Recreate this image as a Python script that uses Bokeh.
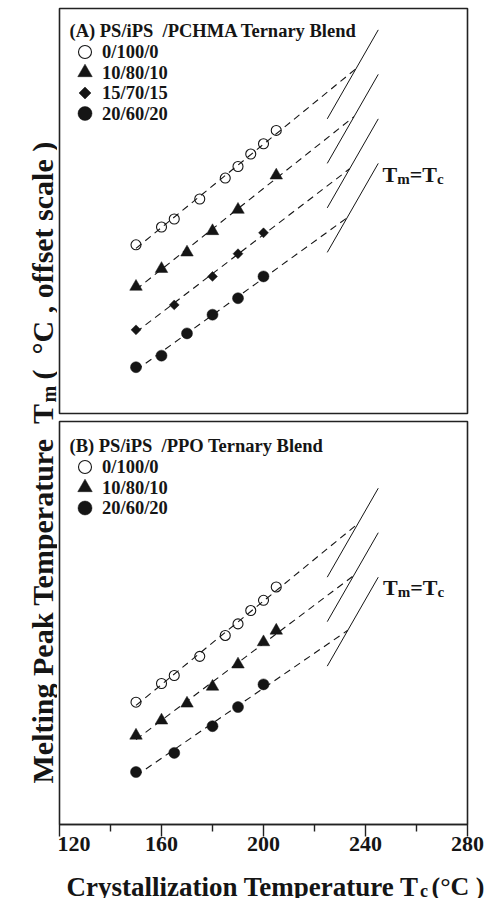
import numpy as np
from bokeh.plotting import figure
from bokeh.models import Range1d, FixedTicker
from bokeh.layouts import row, column
from bokeh.embed import file_html
from bokeh.resources import INLINE
from bokeh.core.properties import value

# ---------------- data ----------------
x_major = [120, 160, 200, 240, 280]
x_minor = [140, 180, 220, 260]
seg_tc = [225, 245]          # extent of the Tm = Tc reference segments

# Panel A : PS/iPS/PCHMA
labels_A = ["0/100/0", "10/80/10", "15/70/15", "20/60/20"]
tc_A0 = [150, 160, 165, 175, 185, 190, 195, 200, 205]
tm_A0 = [196.7, 200.7, 202.5, 207.0, 211.7, 214.3, 217.1, 219.4, 222.4]
tc_A1 = [150, 160, 170, 180, 190, 205]
tm_A1 = [197.3, 201.3, 205.0, 209.8, 214.6, 222.3]
tc_A2 = [150, 165, 180, 190, 200]
tm_A2 = [197.6, 203.2, 209.6, 214.7, 219.4]
tc_A3 = [150, 160, 170, 180, 190, 200]
tm_A3 = [199.2, 201.8, 206.8, 211.0, 214.7, 219.6]
offset_A = [0, -10, -20, -30]

# Panel B : PS/iPS/PPO
labels_B = ["0/100/0", "10/80/10", "20/60/20"]
tc_B0 = [150, 160, 165, 175, 185, 190, 195, 200, 205]
tm_B0 = [196.9, 201.1, 202.9, 207.2, 211.9, 214.5, 217.5, 219.8, 222.8]
tc_B1 = [150, 160, 170, 180, 190, 200, 205]
tm_B1 = [199.4, 202.8, 206.6, 210.4, 215.4, 220.4, 223.0]
tc_B2 = [150, 165, 180, 190, 200]
tm_B2 = [201.2, 205.5, 211.5, 215.8, 220.9]
offset_B = [0, -10, -20]

# ---------------- style ----------------
FONT = "Liberation Serif"
INK = "#151515"
NB = "\u00a0"
FW = 408
STYLE = {
    "open": dict(marker="circle", size=10, fill_color=None, line_color=INK, line_width=1.1),
    "tri":  dict(marker="triangle", size=12.5, fill_color=INK, line_color=INK, line_width=0.5),
    "dia":  dict(marker="square", size=7, angle=np.pi / 4, fill_color=INK, line_color=INK, line_width=0.5),
    "dot":  dict(marker="circle", size=11, fill_color=INK, line_color=INK, line_width=0.5),
}
LEG_SIZE = {"open": 13, "tri": 14.5, "dia": 8.5, "dot": 14}


def make_panel(y_lo, y_hi, fh, top, bottom, with_axis):
    p = figure(frame_width=FW, frame_height=fh,
               x_range=Range1d(x_major[0], x_major[-1]), y_range=Range1d(y_lo, y_hi),
               x_axis_location="below" if with_axis else None, y_axis_location=None,
               min_border_left=2, min_border_right=20, min_border_top=top,
               min_border_bottom=bottom, output_backend="svg", toolbar_location=None)
    p.grid.visible = False
    p.outline_line_color = "#222222"
    p.outline_line_width = 1.6
    p.background_fill_color = "white"
    p.border_fill_color = "white"
    p.extra_x_ranges = {"px": Range1d(0, FW)}
    p.extra_y_ranges = {"px": Range1d(fh, 0)}
    return p


def draw_series(p, tcs, tms, offsets, kinds):
    for tc, tm, off, kind in zip(tcs, tms, offsets, kinds):
        tc = np.asarray(tc, float)
        tm = np.asarray(tm, float)
        a, b = np.polyfit(tc, tm, 1)
        t0 = b / (1 - a)                       # intersection with Tm = Tc
        xl = np.array([tc[0], t0])
        p.line(xl, a * xl + b + off, line_color=INK, line_width=1.1, line_dash="7 5")
        xs = np.array(seg_tc, float)
        p.line(xs, xs + off, line_color=INK, line_width=1.0)
        p.scatter(tc, tm + off, **STYLE[kind])


def draw_legend(p, header, labels, kinds, y0):
    p.text(x=[10], y=[y0], text=[header], x_range_name="px", y_range_name="px",
           text_font=value(FONT), text_font_style="bold", text_font_size="18.5px",
           text_baseline="middle", text_align="left", text_color=INK)
    ys = [y0 + 21.5 + 20.5 * i for i in range(len(labels))]
    for yy, kind in zip(ys, kinds):
        st = dict(STYLE[kind])
        st["size"] = LEG_SIZE[kind]
        p.scatter(x=[25.5], y=[yy], x_range_name="px", y_range_name="px", **st)
    p.text(x=[42.5] * len(labels), y=ys, text=labels, x_range_name="px", y_range_name="px",
           text_font=value(FONT), text_font_style="bold", text_font_size="18.5px",
           text_baseline="middle", text_align="left", text_color=INK)


def draw_tmtc(p, x0, yb):
    pieces = [("T", 0.0, 0, "22px"), ("m", 14.7, 4, "15px"),
              ("=T", 27.2, 0, "22px"), ("c", 54.4, 4, "15px")]
    for txt, dx, dy, fs in pieces:
        p.text(x=[x0 + dx], y=[yb + dy], text=[txt], x_range_name="px", y_range_name="px",
               text_font=value(FONT), text_font_style="bold", text_font_size=fs,
               text_baseline="alphabetic", text_align="left", text_color=INK)


# ---------------- panel A ----------------
pA = make_panel(158.8, 249.8, 405, 8, 4, False)
draw_series(pA, [tc_A0, tc_A1, tc_A2, tc_A3], [tm_A0, tm_A1, tm_A2, tm_A3], offset_A,
            ["open", "tri", "dia", "dot"])
draw_legend(pA, "(A) PS/iPS" + NB + NB + "/PCHMA Ternary Blend", labels_A,
            ["open", "tri", "dia", "dot"], 22)
draw_tmtc(pA, 323, 166)

# ---------------- panel B ----------------
pB = make_panel(169.4, 260.0, 403, 4, 30, True)
draw_series(pB, [tc_B0, tc_B1, tc_B2], [tm_B0, tm_B1, tm_B2], offset_B, ["open", "tri", "dot"])
draw_legend(pB, "(B) PS/iPS" + NB + NB + "/PPO Ternary Blend", labels_B,
            ["open", "tri", "dot"], 24)
draw_tmtc(pB, 323.5, 166)

ax = pB.xaxis[0]
ax.ticker = FixedTicker(ticks=x_major, minor_ticks=x_minor)
ax.axis_line_color = "#222222"
ax.axis_line_width = 1.6
ax.major_tick_line_color = "#222222"
ax.major_tick_line_width = 1.4
ax.minor_tick_line_color = "#222222"
ax.minor_tick_line_width = 1.4
ax.major_tick_in = 0
ax.major_tick_out = 12
ax.minor_tick_in = 0
ax.minor_tick_out = 7
ax.major_label_text_font = FONT
ax.major_label_text_font_style = "bold"
ax.major_label_text_font_size = "22px"
ax.major_label_text_color = INK
ax.major_label_standoff = 0

# ---------------- y label column ----------------
YH = 8 + 405 + 4 + 4 + 403 + 34
pY = figure(frame_width=57, frame_height=YH, x_range=Range1d(0, 57), y_range=Range1d(YH, 0),
            x_axis_location=None, y_axis_location=None, min_border=0,
            output_backend="svg", toolbar_location=None)
pY.grid.visible = False
pY.outline_line_color = None
ya = 403
for txt, x, y, fs, al in [("Melting Peak Temperature" + NB + NB + "T", 42, ya, "30px", "right"),
                          ("m", 48, ya - 1, "20px", "left"),
                          ("(" + NB + NB + "°C , offset scale )", 42, ya - 24, "30px", "left")]:
    pY.text(x=[x], y=[y], text=[txt], angle=np.pi / 2, text_font=value(FONT),
            text_font_style="bold", text_font_size=fs, text_align=al,
            text_baseline="alphabetic", text_color=INK)

# ---------------- x title strip ----------------
XW, XH = 57 + 2 + FW + 20, 40
pX = figure(frame_width=XW, frame_height=XH, x_range=Range1d(0, XW), y_range=Range1d(XH, 0),
            x_axis_location=None, y_axis_location=None, min_border=0,
            output_backend="svg", toolbar_location=None)
pX.grid.visible = False
pX.outline_line_color = None
xa = 418.5
yb = 28
for txt, x, y, fs, al in [("Crystallization Temperature T", xa, yb, "27px", "right"),
                          ("c", xa + 1, yb + 4, "18px", "left"),
                          ("(°C )", xa + 12.5, yb, "26px", "left")]:
    pX.text(x=[x], y=[y], text=[txt], text_font=value(FONT), text_font_style="bold",
            text_font_size=fs, text_align=al, text_baseline="alphabetic", text_color=INK)

layout = column(row(pY, column(pA, pB)), pX)
open("out.html", "w").write(file_html(layout, INLINE))
